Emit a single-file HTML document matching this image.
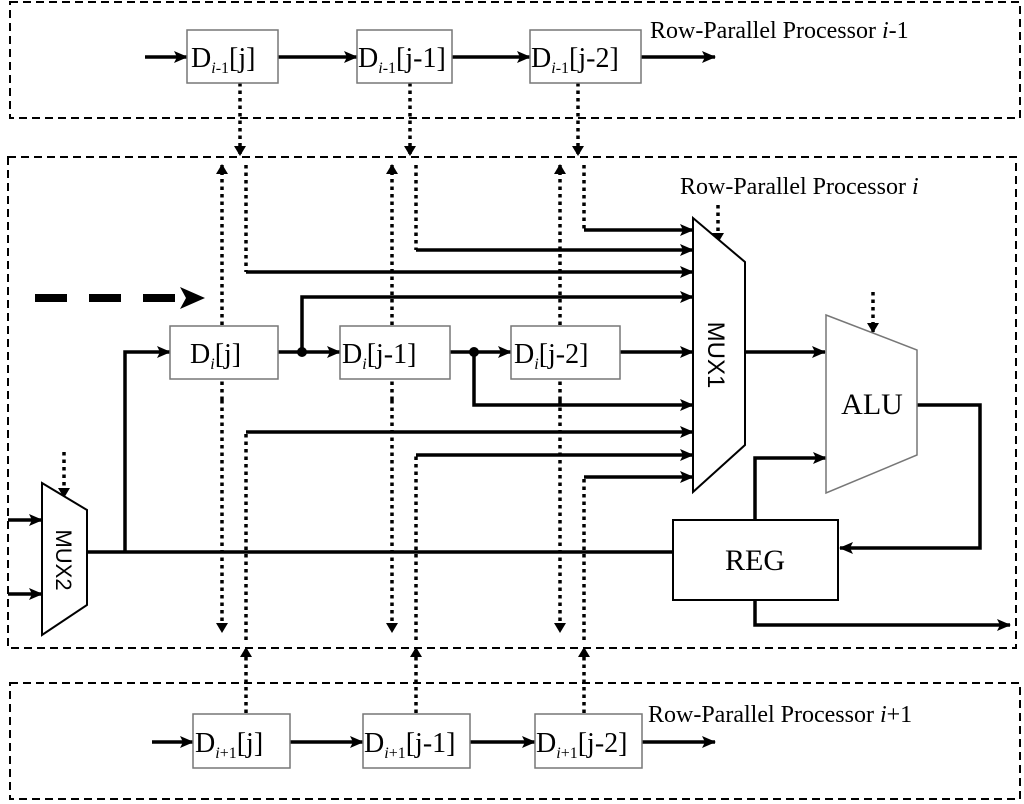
<!DOCTYPE html>
<html><head><style>body{margin:0;background:#fff}svg{display:block}text{font-family:"Liberation Serif",serif;fill:#000}</style></head><body>
<svg width="1024" height="804" viewBox="0 0 1024 804" xmlns="http://www.w3.org/2000/svg">
<defs>
<marker id="a" markerWidth="14" markerHeight="12" refX="13" refY="6" orient="auto" markerUnits="userSpaceOnUse"><path d="M0,0 L14,6 L0,12 L3,6 z" fill="#000"/></marker>
<marker id="d" markerWidth="10" markerHeight="12" refX="9" refY="6" orient="auto" markerUnits="userSpaceOnUse"><path d="M0,0 L10,6 L0,12 z" fill="#000"/></marker>
<marker id="b" markerWidth="24" markerHeight="22" refX="23" refY="11" orient="auto" markerUnits="userSpaceOnUse"><path d="M0,0 L24,11 L0,22 L6,11 z" fill="#000"/></marker>
</defs>
<g fill="none" stroke="#000" stroke-width="2" stroke-dasharray="8,5">
<rect x="10" y="2" width="1010" height="116"/>
<rect x="8" y="157" width="1008" height="491"/>
<rect x="10" y="683" width="1010" height="116"/>
</g>
<!-- dotted -->
<g fill="none" stroke="#000" stroke-width="3.5" stroke-dasharray="3.5,4" marker-end="url(#d)">
<path d="M240,83V155"/><path d="M410,83V155"/><path d="M578,83V155"/>
<path d="M222,400V165"/><path d="M392,400V165"/><path d="M560,400V165"/>
<path d="M222,400V632"/><path d="M392,400V632"/><path d="M560,400V632"/>
<path d="M246,713V648"/><path d="M416,713V648"/><path d="M584,713V648"/>
<path d="M718,205V242"/><path d="M873,292V332"/><path d="M64,452V497"/>
</g>
<g fill="none" stroke="#000" stroke-width="3.5" stroke-dasharray="3.5,4">
<path d="M246,165V272"/><path d="M416,165V250"/><path d="M584,165V230"/>
<path d="M246,640V432"/><path d="M416,640V455"/><path d="M584,640V477"/>
</g>
<!-- solid arrows -->
<g fill="none" stroke="#000" stroke-width="3.5" marker-end="url(#a)">
<path d="M145,57H187"/><path d="M278,57H357"/><path d="M452,57H530"/><path d="M641,57H715"/>
<path d="M152,742H193"/><path d="M290,742H363"/><path d="M470,742H535"/><path d="M642,742H715"/>
<path d="M125,552V352H170"/><path d="M278,352H340"/><path d="M450,352H511"/><path d="M620,352H693"/>
<path d="M302,352V297H693"/><path d="M474,352V405H693"/>
<path d="M584,230H693"/><path d="M416,250H693"/><path d="M246,272H693"/>
<path d="M246,432H693"/><path d="M416,455H693"/><path d="M584,477H693"/>
<path d="M745,352H825"/>
<path d="M917,405H980V548H840"/>
<path d="M755,520V458H826"/>
<path d="M755,600V625H1010"/>
<path d="M8,520H42"/><path d="M8,594H42"/>
</g>
<path d="M87,552H673" stroke="#000" stroke-width="3.5"/>
<circle cx="302" cy="352" r="5"/><circle cx="474" cy="352" r="5"/>
<!-- boxes -->
<g fill="#fff" stroke="#777" stroke-width="1.5">
<rect x="187" y="30" width="91" height="53"/><rect x="357" y="30" width="95" height="53"/><rect x="530" y="30" width="111" height="53"/>
<rect x="170" y="326" width="108" height="53"/><rect x="340" y="326" width="110" height="53"/><rect x="511" y="326" width="109" height="53"/>
<rect x="193" y="714" width="97" height="54"/><rect x="363" y="714" width="107" height="54"/><rect x="535" y="714" width="107" height="54"/>
</g>
<g font-size="28">
<text x="191" y="67">D<tspan font-size="16" font-style="italic" dy="6">i</tspan><tspan font-size="16">-1</tspan><tspan dy="-6">[j]</tspan></text>
<text x="358" y="67">D<tspan font-size="16" font-style="italic" dy="6">i</tspan><tspan font-size="16">-1</tspan><tspan dy="-6">[j-1]</tspan></text>
<text x="531" y="67">D<tspan font-size="16" font-style="italic" dy="6">i</tspan><tspan font-size="16">-1</tspan><tspan dy="-6">[j-2]</tspan></text>
<text x="190" y="363">D<tspan font-size="16" font-style="italic" dy="6">i</tspan><tspan dy="-6">[j]</tspan></text>
<text x="342" y="363">D<tspan font-size="16" font-style="italic" dy="6">i</tspan><tspan dy="-6">[j-1]</tspan></text>
<text x="514" y="363">D<tspan font-size="16" font-style="italic" dy="6">i</tspan><tspan dy="-6">[j-2]</tspan></text>
<text x="195" y="752">D<tspan font-size="16" font-style="italic" dy="6">i</tspan><tspan font-size="16">+1</tspan><tspan dy="-6">[j]</tspan></text>
<text x="364" y="752">D<tspan font-size="16" font-style="italic" dy="6">i</tspan><tspan font-size="16">+1</tspan><tspan dy="-6">[j-1]</tspan></text>
<text x="536" y="752">D<tspan font-size="16" font-style="italic" dy="6">i</tspan><tspan font-size="16">+1</tspan><tspan dy="-6">[j-2]</tspan></text>
</g>
<g font-size="24">
<text x="650" y="38">Row-Parallel Processor <tspan font-style="italic">i</tspan>-1</text>
<text x="680" y="194">Row-Parallel Processor <tspan font-style="italic">i</tspan></text>
<text x="648" y="722">Row-Parallel Processor <tspan font-style="italic">i</tspan>+1</text>
</g>
<!-- dashed big arrow -->
<path d="M35,298H185" stroke="#000" stroke-width="8" stroke-dasharray="32,22"/>
<path d="M180,287L205,298L180,309L186,298Z" fill="#000"/>
<!-- MUX1, ALU, MUX2, REG -->
<path d="M693,218L745,262V445L693,492Z" fill="#fff" stroke="#000" stroke-width="2"/>
<text transform="translate(708,355) rotate(90)" font-size="24" text-anchor="middle" style="font-family:'Liberation Sans',sans-serif">MUX1</text>
<path d="M826,315L917,350V455L826,493Z" fill="#fff" stroke="#777" stroke-width="1.5"/>
<text x="872" y="414" font-size="30" text-anchor="middle">ALU</text>
<path d="M42,483L87,510V605L42,635Z" fill="#fff" stroke="#000" stroke-width="2"/>
<text transform="translate(56,560) rotate(90)" font-size="22" text-anchor="middle" style="font-family:'Liberation Sans',sans-serif">MUX2</text>
<rect x="673" y="520" width="165" height="80" fill="#fff" stroke="#000" stroke-width="2"/>
<text x="755" y="570" font-size="30" text-anchor="middle">REG</text>
</svg>
</body></html>
